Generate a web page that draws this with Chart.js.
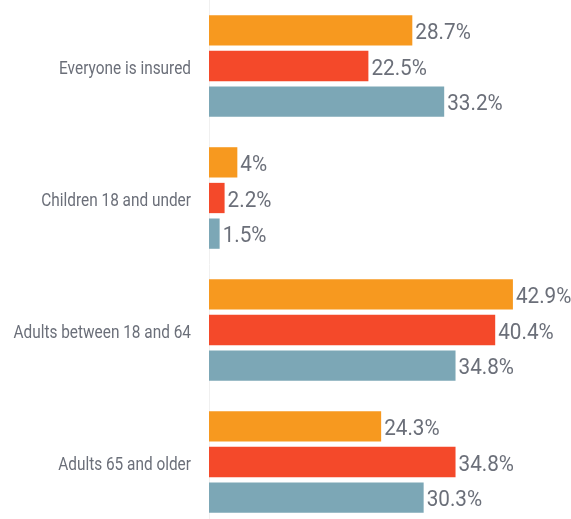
<!DOCTYPE html>
<html>
<head>
<meta charset="utf-8">
<script src="https://cdn.jsdelivr.net/npm/chart.js@4.4.1/dist/chart.umd.min.js"></script>
<style>
  html, body { margin: 0; padding: 0; background: #fff; overflow: hidden; }
  #wrap { position: relative; width: 571px; height: 528px; }
</style>
</head>
<body>
<div id="wrap"><canvas id="uninsuredChart"></canvas></div>
<script>
const categories = ['Everyone is insured', 'Children 18 and under', 'Adults between 18 and 64', 'Adults 65 and older']
const seriesA = [28.7, 4, 42.9, 24.3]
const seriesB = [22.5, 2.2, 40.4, 34.8]
const seriesC = [33.2, 1.5, 34.8, 30.3]
const colors = ['#f7991f', '#f4492a', '#7ca7b6']

const textGray = '#6b6f79'
const fontFamily = 'Roboto, "Liberation Sans", sans-serif'

// narrow text: no condensed face is around, so squeeze the regular one
function squeezedText(ctx, text, x, y, squeeze) {
  ctx.save()
  ctx.translate(x, y)
  ctx.scale(squeeze, 1)
  ctx.fillText(text, 0, 0)
  ctx.restore()
}

// category names, placed on the y scale's tick positions
const categoryLabels = {
  id: 'categoryLabels',
  afterDraw(chart) {
    const ctx = chart.ctx
    const yScale = chart.scales.y
    ctx.save()
    ctx.font = '19px ' + fontFamily
    ctx.fillStyle = textGray
    ctx.textBaseline = 'middle'
    ctx.textAlign = 'right'
    yScale.ticks.forEach((tick, i) => {
      squeezedText(ctx, yScale.getLabelForValue(tick.value), yScale.right - 18, yScale.getPixelForTick(i) + 3, 0.81)
    })
    ctx.restore()
  }
}

// writes "xx.x%" just past the end of each bar
const valueLabels = {
  id: 'valueLabels',
  afterDatasetsDraw(chart) {
    const ctx = chart.ctx
    ctx.save()
    ctx.font = '22px ' + fontFamily
    ctx.fillStyle = textGray
    ctx.textBaseline = 'middle'
    ctx.textAlign = 'left'
    chart.data.datasets.forEach((ds, i) => {
      const meta = chart.getDatasetMeta(i)
      meta.data.forEach((bar, j) => {
        squeezedText(ctx, ds.data[j] + '%', bar.x + 3, bar.y + 3, 0.94)
      })
    })
    ctx.restore()
  }
}

const data = {
  labels: categories,
  datasets: [
    { data: seriesA, backgroundColor: colors[0] },
    { data: seriesB, backgroundColor: colors[1] },
    { data: seriesC, backgroundColor: colors[2] }
  ]
}

const config = {
  type: 'bar',
  data,
  options: {
    indexAxis: 'y',
    responsive: true,
    maintainAspectRatio: false,
    animation: false,
    categoryPercentage: 0.81,
    barPercentage: 0.85,
    layout: { padding: 0 },
    plugins: {
      legend: { display: false },
      tooltip: { enabled: false }
    },
    scales: {
      x: {
        display: false,
        min: 0,
        max: 51.1
      },
      y: {
        grid: { display: false, drawTicks: false },
        border: { display: true, color: '#f0f0f0', width: 1 },
        ticks: { display: false },
        afterFit(scale) {
          scale.width = 209
          scale.paddingTop = 0
          scale.paddingBottom = 0
        }
      }
    }
  },
  plugins: [valueLabels, categoryLabels]
}

new Chart(document.getElementById('uninsuredChart'), config)
</script>
</body>
</html>
